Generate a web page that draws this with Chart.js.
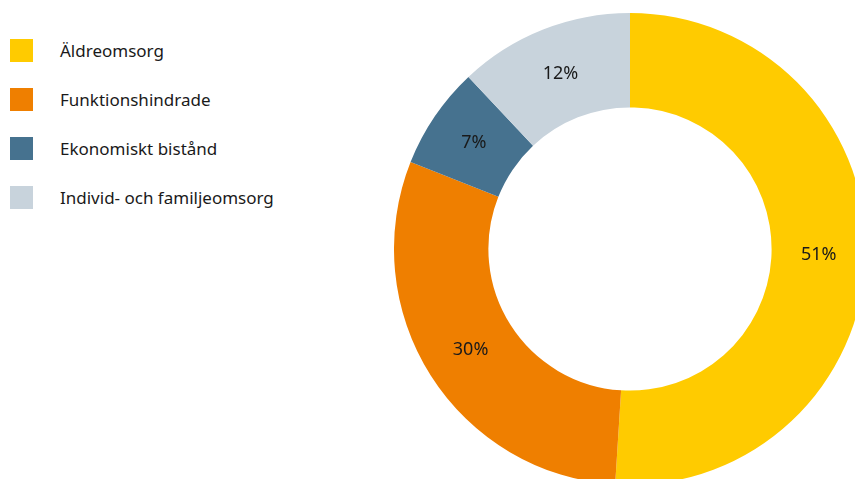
<!DOCTYPE html>
<html lang="sv">
<head>
<meta charset="utf-8">
<script src="https://cdn.jsdelivr.net/npm/chart.js@4/dist/chart.umd.min.js"></script>
<style>
  html, body { margin: 0; padding: 0; width: 855px; height: 479px; overflow: hidden; background: #fff; }
  body { position: relative; font-family: "Noto Sans", sans-serif; color: #1a1a1a; }
  #ring { position: absolute; left: 394px; top: 13px; }
  #legend { position: absolute; left: 10px; top: 39px; margin: 0; padding: 0; list-style: none; }
  #legend li { display: flex; align-items: center; height: 23px; margin-bottom: 26px; font-size: 17px; white-space: nowrap; }
  #legend .box { width: 23px; height: 23px; margin-right: 27px; flex: none; }
</style>
</head>
<body>
<ul id="legend"></ul>
<canvas id="ring" width="472" height="472"></canvas>
<script>
// Fördelning av kostnader per verksamhet (procent)
const categories = ["Äldreomsorg", "Funktionshindrade", "Ekonomiskt bistånd", "Individ- och familjeomsorg"];
const shares = [51, 30, 7, 12];
const colors = ["#FFCB00", "#EF7F00", "#46728F", "#C8D3DC"];

// Percent labels drawn at the centre of each ring segment
const sliceLabels = {
  id: "sliceLabels",
  afterDatasetsDraw(chart) {
    const { ctx } = chart;
    const meta = chart.getDatasetMeta(0);
    ctx.save();
    ctx.font = '18px "Noto Sans", sans-serif';
    ctx.fillStyle = "#1a1a1a";
    ctx.textAlign = "center";
    ctx.textBaseline = "middle";
    meta.data.forEach((arc, i) => {
      const p = arc.tooltipPosition();
      ctx.fillText(shares[i] + "%", p.x, p.y);
    });
    ctx.restore();
  }
};

const chart = new Chart(document.getElementById("ring"), {
  type: "doughnut",
  data: {
    labels: categories,
    datasets: [{
      data: shares,
      backgroundColor: colors,
      borderWidth: 0,
      hoverOffset: 0
    }]
  },
  options: {
    responsive: false,
    animation: false,
    cutout: "60%",
    layout: { padding: 0 },
    plugins: {
      legend: { display: false },
      tooltip: { enabled: false }
    }
  },
  plugins: [sliceLabels]
});

// Legend list built from the chart's own legend items
const list = document.getElementById("legend");
chart.options.plugins.legend.labels.generateLabels(chart).forEach(item => {
  const li = document.createElement("li");
  const box = document.createElement("span");
  box.className = "box";
  box.style.background = item.fillStyle;
  li.appendChild(box);
  li.appendChild(document.createTextNode(item.text));
  list.appendChild(li);
});
</script>
</body>
</html>
